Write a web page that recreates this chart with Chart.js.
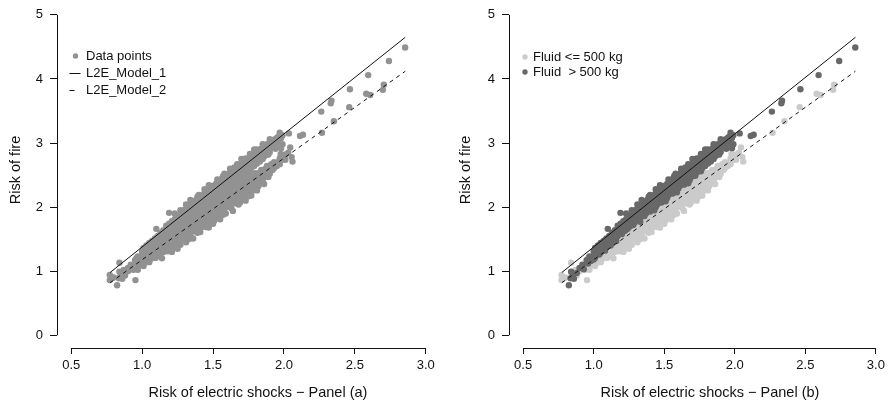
<!DOCTYPE html>
<html><head><meta charset="utf-8">
<script src="https://cdn.jsdelivr.net/npm/chart.js@4.4.0/dist/chart.umd.min.js"></script>
<style>
html,body{margin:0;padding:0;background:#fff;width:894px;height:406px;overflow:hidden}
.panel{position:absolute;top:0;height:406px}
#pa{left:0;width:447px}
#pb{left:452px;width:442px}
canvas{display:block}
</style></head><body>
<div class="panel" id="pa"><canvas id="ca" width="447" height="406"></canvas></div>
<div class="panel" id="pb"><canvas id="cb" width="442" height="406"></canvas></div>
<script>
// ---- tick values and labels ----
const xTicks = [0.5, 1.0, 1.5, 2.0, 2.5, 3.0];
const xTickLabels = ['0.5', '1.0', '1.5', '2.0', '2.5', '3.0'];
const yTicks = [0, 1, 2, 3, 4, 5];
const yTickLabels = ['0', '1', '2', '3', '4', '5'];

// ---- fitted models (end points of the lines) ----
const modelX = [0.775, 2.855];
const model1Y = [0.98, 4.65];
const model2Y = [0.82, 4.12];

// ---- observations, Fluid > 500 kg ----
const heavyPoints = [
[0.824,0.78],[0.836,0.89],[0.84,0.99],[0.85,0.92],[0.86,0.88],[0.88,0.97],[0.90,1.05],[0.92,1.10],[0.93,1.03],
[0.95,1.17],[0.96,1.12],[0.97,1.23],[0.98,1.16],
[1.00,1.31],[1.00,1.24],[1.00,1.18],[1.02,1.36],[1.02,1.28],[1.04,1.39],[1.04,1.31],[1.04,1.26],
[1.06,1.42],[1.06,1.35],[1.08,1.47],[1.08,1.38],[1.08,1.32],[1.10,1.66],[1.10,1.50],[1.10,1.41],
[1.12,1.54],[1.12,1.46],[1.12,1.40],[1.14,1.59],[1.14,1.50],[1.16,1.62],[1.16,1.54],[1.16,1.47],
[1.18,1.67],[1.18,1.58],[1.19,1.91],[1.20,1.74],[1.20,1.66],[1.20,1.58],[1.22,1.78],[1.22,1.70],[1.22,1.63],
[1.24,1.84],[1.24,1.75],[1.24,1.66],[1.26,1.86],[1.26,1.79],[1.26,1.71],[1.28,1.93],[1.28,1.85],[1.28,1.76],[1.28,1.72],
[1.30,1.96],[1.30,1.88],[1.30,1.80],[1.32,2.00],[1.32,1.93],[1.32,1.85],[1.32,1.79],[1.34,2.04],[1.34,1.96],[1.34,1.88],
[1.36,2.08],[1.36,2.00],[1.36,1.92],[1.36,1.86],[1.38,2.11],[1.38,2.04],[1.38,1.96],
[1.40,2.19],[1.40,2.14],[1.40,2.07],[1.40,1.99],[1.40,1.93],[1.42,2.18],[1.42,2.11],[1.42,2.03],
[1.44,2.22],[1.44,2.14],[1.44,2.06],[1.44,2.00],[1.46,2.26],[1.46,2.18],[1.46,2.10],
[1.48,2.30],[1.48,2.21],[1.48,2.13],[1.48,2.07],[1.50,2.33],[1.50,2.25],[1.50,2.17],
[1.52,2.36],[1.52,2.28],[1.52,2.20],[1.52,2.14],[1.54,2.40],[1.54,2.32],[1.54,2.24],
[1.56,2.44],[1.56,2.35],[1.56,2.27],[1.56,2.21],[1.58,2.47],[1.58,2.39],[1.58,2.31],
[1.60,2.51],[1.60,2.43],[1.60,2.35],[1.60,2.29],[1.62,2.54],[1.62,2.46],[1.62,2.38],
[1.64,2.58],[1.64,2.49],[1.64,2.41],[1.64,2.35],[1.66,2.61],[1.66,2.53],[1.66,2.45],
[1.68,2.65],[1.68,2.57],[1.68,2.49],[1.68,2.42],[1.70,2.68],[1.70,2.60],[1.70,2.52],
[1.72,2.71],[1.72,2.64],[1.72,2.56],[1.72,2.49],[1.74,2.75],[1.74,2.67],[1.74,2.59],
[1.76,2.78],[1.76,2.70],[1.76,2.62],[1.76,2.56],[1.78,2.82],[1.78,2.74],[1.78,2.66],
[1.80,2.85],[1.80,2.77],[1.80,2.69],[1.82,2.88],[1.82,2.81],[1.82,2.72],[1.84,2.91],[1.84,2.84],[1.84,2.76],
[1.86,2.95],[1.86,2.87],[1.86,2.79],[1.88,2.98],[1.88,2.90],[1.88,2.82],[1.90,3.01],[1.90,2.94],[1.90,2.86],
[1.92,3.04],[1.92,2.96],[1.94,3.06],[1.94,2.99],[1.94,2.91],[1.96,3.10],[1.96,3.03],[1.97,3.16],[1.98,3.08],[1.98,2.92],
[1.01,1.36],[1.01,1.28],[1.01,1.21],[1.03,1.40],[1.03,1.32],[1.05,1.44],[1.05,1.35],[1.05,1.29],[1.07,1.47],[1.07,1.39],
[1.09,1.51],[1.09,1.43],[1.09,1.37],[1.11,1.55],[1.11,1.47],[1.13,1.60],[1.13,1.51],[1.13,1.44],[1.15,1.64],[1.15,1.56],
[1.17,1.71],[1.17,1.62],[1.17,1.55],[1.19,1.74],[1.19,1.65],[1.21,1.78],[1.21,1.69],[1.21,1.62],[1.23,1.81],[1.23,1.72],[1.23,1.65],
[1.25,1.85],[1.25,1.76],[1.25,1.69],[1.27,1.95],[1.27,1.88],[1.27,1.79],[1.27,1.72],[1.29,1.92],[1.29,1.83],[1.29,1.76],
[1.31,1.96],[1.31,1.87],[1.31,1.80],[1.33,1.99],[1.33,1.90],[1.33,1.83],[1.33,1.77],[1.35,2.03],[1.35,1.94],[1.35,1.87],
[1.37,2.06],[1.37,1.97],[1.37,1.90],[1.39,2.16],[1.39,2.10],[1.39,2.01],[1.39,1.94],[1.41,2.13],[1.41,2.04],[1.41,1.97],
[1.43,2.17],[1.43,2.08],[1.43,2.01],[1.43,1.95],[1.45,2.20],[1.45,2.11],[1.45,2.04],[1.47,2.24],[1.47,2.15],[1.47,2.08],
[1.49,2.33],[1.49,2.27],[1.49,2.18],[1.49,2.11],[1.51,2.31],[1.51,2.22],[1.51,2.15],[1.51,2.09],[1.53,2.35],[1.53,2.26],[1.53,2.19],
[1.55,2.38],[1.55,2.29],[1.55,2.22],[1.57,2.48],[1.57,2.42],[1.57,2.33],[1.57,2.26],[1.59,2.45],[1.59,2.36],[1.59,2.29],[1.59,2.23],
[1.61,2.49],[1.61,2.40],[1.61,2.33],[1.63,2.52],[1.63,2.43],[1.63,2.36],[1.65,2.62],[1.65,2.56],[1.65,2.47],[1.65,2.40],
[1.67,2.59],[1.67,2.50],[1.67,2.43],[1.67,2.37],[1.69,2.63],[1.69,2.54],[1.69,2.47],[1.71,2.66],[1.71,2.57],[1.71,2.50],
[1.73,2.76],[1.73,2.70],[1.73,2.61],[1.73,2.54],[1.75,2.73],[1.75,2.64],[1.75,2.57],[1.77,2.77],[1.77,2.68],[1.77,2.61],
[1.79,2.80],[1.79,2.71],[1.79,2.64],[1.81,2.90],[1.81,2.84],[1.81,2.75],[1.81,2.68],[1.83,2.87],[1.83,2.78],[1.83,2.71],
[1.85,2.91],[1.85,2.82],[1.85,2.75],[1.87,2.95],[1.87,2.86],[1.89,2.98],[1.89,2.89],[1.89,2.82],[1.91,3.01],[1.91,2.93],
[1.93,3.05],[1.93,2.96],[1.95,3.08],[1.95,2.99],[1.99,3.12],[1.99,2.98],
[1.23,1.90],[1.31,2.04],[1.34,2.11],[1.44,2.28],[1.47,2.34],[1.53,2.43],[1.58,2.52],[1.62,2.60],[1.67,2.67],[1.70,2.75],
[1.76,2.83],[1.79,2.90],[1.85,2.98],[1.90,3.06],
[2.035,3.15],[2.113,3.11],[2.134,3.13],[2.263,3.49],[2.33,3.62],[2.335,3.66],[2.465,3.84],[2.594,4.06],[2.74,4.28],[2.854,4.49]
];

// ---- observations, Fluid <= 500 kg ----
const lightPoints = [
[0.772,0.94],[0.772,0.86],[0.80,0.90],[0.84,1.13],[0.85,0.97],[0.87,1.02],[0.88,0.93],[0.90,1.00],[0.92,1.06],[0.94,1.02],[0.953,0.86],
[0.96,1.20],[0.96,1.12],[0.96,1.05],[0.98,1.16],[0.98,1.09],[1.00,1.26],[1.00,1.18],[1.00,1.10],[1.02,1.22],[1.02,1.13],
[1.04,1.33],[1.04,1.25],[1.04,1.17],[1.06,1.29],[1.06,1.19],[1.08,1.39],[1.08,1.31],[1.08,1.24],[1.096,1.21],[1.10,1.35],[1.10,1.27],
[1.12,1.45],[1.12,1.37],[1.12,1.29],[1.14,1.41],[1.14,1.33],[1.16,1.52],[1.16,1.44],[1.16,1.35],[1.18,1.48],[1.18,1.39],[1.18,1.31],
[1.20,1.58],[1.20,1.50],[1.20,1.42],[1.22,1.54],[1.22,1.45],[1.22,1.38],[1.24,1.64],[1.24,1.57],[1.24,1.49],[1.244,1.39],
[1.26,1.60],[1.26,1.52],[1.26,1.45],[1.28,1.71],[1.28,1.63],[1.28,1.55],[1.30,1.66],[1.30,1.58],[1.30,1.50],
[1.32,1.77],[1.32,1.69],[1.32,1.61],[1.34,1.73],[1.34,1.64],[1.34,1.56],[1.36,1.84],[1.36,1.75],[1.36,1.67],
[1.38,1.79],[1.38,1.71],[1.38,1.62],[1.40,1.90],[1.40,1.82],[1.40,1.74],[1.42,1.85],[1.42,1.77],[1.42,1.69],
[1.44,1.97],[1.44,1.88],[1.44,1.80],[1.46,1.92],[1.46,1.84],[1.46,1.75],[1.48,2.03],[1.48,1.94],[1.48,1.86],
[1.50,1.98],[1.50,1.90],[1.50,1.81],[1.52,2.09],[1.52,2.01],[1.52,1.92],[1.54,2.04],[1.54,1.95],[1.54,1.87],
[1.56,2.16],[1.56,2.07],[1.56,1.99],[1.58,2.11],[1.58,2.02],[1.58,1.93],[1.60,2.22],[1.60,2.13],[1.60,2.05],
[1.62,2.17],[1.62,2.09],[1.62,2.00],[1.64,2.28],[1.64,2.20],[1.64,2.12],[1.66,2.23],[1.66,2.15],[1.66,2.06],
[1.68,2.35],[1.68,2.26],[1.68,2.18],[1.70,2.30],[1.70,2.21],[1.70,2.13],[1.72,2.41],[1.72,2.33],[1.72,2.25],
[1.74,2.36],[1.74,2.27],[1.74,2.19],[1.76,2.47],[1.76,2.39],[1.76,2.31],[1.78,2.42],[1.78,2.34],[1.78,2.26],
[1.80,2.53],[1.80,2.45],[1.80,2.37],[1.82,2.49],[1.82,2.40],[1.82,2.33],[1.84,2.58],[1.84,2.51],[1.84,2.43],
[1.86,2.55],[1.86,2.46],[1.88,2.64],[1.88,2.57],[1.88,2.49],[1.90,2.61],[1.90,2.52],[1.913,2.62],[1.92,2.66],[1.92,2.58],
[1.95,2.64],[1.96,2.70],[1.977,2.83],[2.00,2.74],[2.044,2.93],[2.054,2.78],[2.06,2.71],
[0.97,1.18],[0.97,1.10],[0.97,1.02],[0.99,1.21],[0.99,1.13],[1.01,1.24],[1.01,1.16],[1.01,1.08],[1.03,1.27],[1.03,1.19],
[1.05,1.31],[1.05,1.22],[1.05,1.14],[1.07,1.34],[1.07,1.25],[1.09,1.37],[1.09,1.29],[1.09,1.21],[1.11,1.40],[1.11,1.32],[1.11,1.24],
[1.13,1.43],[1.13,1.35],[1.13,1.27],[1.15,1.47],[1.15,1.38],[1.15,1.30],[1.17,1.50],[1.17,1.41],[1.17,1.33],[1.19,1.53],[1.19,1.44],[1.19,1.36],
[1.21,1.56],[1.21,1.48],[1.21,1.40],[1.21,1.32],[1.23,1.59],[1.23,1.51],[1.23,1.43],[1.25,1.62],[1.25,1.54],[1.25,1.46],
[1.27,1.65],[1.27,1.57],[1.27,1.49],[1.27,1.41],[1.29,1.69],[1.29,1.60],[1.29,1.52],[1.31,1.72],[1.31,1.63],[1.31,1.55],
[1.33,1.75],[1.33,1.66],[1.33,1.58],[1.33,1.50],[1.35,1.78],[1.35,1.70],[1.35,1.62],[1.37,1.81],[1.37,1.73],[1.37,1.65],
[1.39,1.84],[1.39,1.76],[1.39,1.68],[1.39,1.60],[1.41,1.88],[1.41,1.79],[1.41,1.71],[1.43,1.91],[1.43,1.82],[1.43,1.74],
[1.45,1.94],[1.45,1.85],[1.45,1.77],[1.45,1.69],[1.47,1.97],[1.47,1.89],[1.47,1.81],[1.49,2.00],[1.49,1.92],[1.49,1.84],
[1.51,2.03],[1.51,1.95],[1.51,1.87],[1.51,1.79],[1.53,2.07],[1.53,1.98],[1.53,1.90],[1.55,2.10],[1.55,2.01],[1.55,1.93],
[1.57,2.13],[1.57,2.04],[1.57,1.96],[1.57,1.88],[1.59,2.16],[1.59,2.08],[1.59,2.00],[1.61,2.19],[1.61,2.11],[1.61,2.03],
[1.63,2.22],[1.63,2.14],[1.63,2.06],[1.63,1.98],[1.65,2.26],[1.65,2.17],[1.65,2.09],[1.67,2.29],[1.67,2.20],[1.67,2.12],
[1.69,2.32],[1.69,2.23],[1.69,2.15],[1.69,2.07],[1.71,2.35],[1.71,2.27],[1.71,2.19],[1.73,2.38],[1.73,2.30],[1.73,2.22],
[1.75,2.41],[1.75,2.33],[1.75,2.25],[1.75,2.17],[1.77,2.45],[1.77,2.36],[1.77,2.28],[1.79,2.48],[1.79,2.39],[1.79,2.31],
[1.81,2.51],[1.81,2.42],[1.81,2.34],[1.83,2.54],[1.83,2.45],[1.83,2.37],[1.85,2.57],[1.85,2.49],[1.85,2.41],
[1.87,2.60],[1.87,2.52],[1.89,2.63],[1.89,2.55],[1.89,2.47],[1.91,2.67],[1.91,2.58],[1.93,2.70],[1.93,2.61],
[1.97,2.76],[1.97,2.67],[2.01,2.82],[2.01,2.74],[2.03,2.85],
[1.14,1.20],[1.21,1.30],[1.25,1.35],[1.31,1.45],[1.36,1.51],[1.41,1.61],[1.47,1.68],[1.50,1.74],[1.55,1.81],[1.59,1.90],
[1.64,1.94],[1.68,2.04],[1.73,2.10],[1.77,2.18],[1.81,2.26],[1.86,2.36],
[2.268,3.16],[2.352,3.34],[2.46,3.56],[2.58,3.77],[2.608,3.75],[2.697,3.83],[2.704,3.91]
];

// ---- texts ----
const yTitle = 'Risk of fire';
const xTitleA = 'Risk of electric shocks \u2212 Panel (a)';
const xTitleB = 'Risk of electric shocks \u2212 Panel (b)';
const legendA = ['Data points', 'L2E_Model_1', 'L2E_Model_2'];
const legendB = ['Fluid <= 500 kg', 'Fluid  > 500 kg'];

const FONT = "'Liberation Sans', Arial, Helvetica, sans-serif";
const INK = '#111';
const COL_ALL = '#929292';
const COL_HEAVY = '#686868';
const COL_LIGHT = '#cbcbcb';
const R = 3.2;

const toXY = pts => pts.map(p => ({x: p[0], y: p[1]}));
const lineData = ys => modelX.map((x, i) => ({x: x, y: ys[i]}));

// R-style detached axis lines, drawn through the scales
const rAxes = {
  id: 'rAxes',
  afterDraw(chart) {
    const {ctx, chartArea, scales: {x, y}} = chart;
    ctx.save();
    ctx.strokeStyle = INK; ctx.lineWidth = 1;
    ctx.beginPath();
    const ax = Math.round(chartArea.left) + 0.5;
    ctx.moveTo(ax, y.getPixelForValue(yTicks[0]));
    ctx.lineTo(ax, y.getPixelForValue(yTicks[yTicks.length - 1]));
    const ay = Math.round(chartArea.bottom) + 0.5;
    ctx.moveTo(x.getPixelForValue(xTicks[0]), ay);
    ctx.lineTo(x.getPixelForValue(xTicks[xTicks.length - 1]), ay);
    ctx.stroke();
    ctx.restore();
  }
};

const rText = {
  id: 'rText',
  afterDraw(chart, args, o) {
    const ctx = chart.ctx;
    ctx.save();
    ctx.fillStyle = INK;
    ctx.font = '14.5px ' + FONT;
    ctx.textAlign = 'center'; ctx.textBaseline = 'middle';
    ctx.fillText(o.xTitle, o.xTitleX, o.xTitleY);
    ctx.save();
    ctx.translate(o.yTitleX, o.yTitleY);
    ctx.rotate(-Math.PI / 2);
    ctx.fillText(yTitle, 0, 0);
    ctx.restore();
    // legend
    ctx.font = '13px ' + FONT;
    ctx.textAlign = 'left';
    o.items.forEach((it, i) => {
      const yy = o.legY + i * o.legStep;
      if (it.kind === 'dot') {
        ctx.fillStyle = it.color;
        ctx.beginPath(); ctx.arc(o.symX, yy, 2.7, 0, Math.PI * 2); ctx.fill();
      } else {
        ctx.strokeStyle = INK; ctx.lineWidth = 1;
        ctx.setLineDash(it.kind === 'dash' ? [5, 6] : []);
        ctx.beginPath(); ctx.moveTo(o.symX - 6, yy + 0.5); ctx.lineTo(o.symX + 5, yy + 0.5); ctx.stroke();
        ctx.setLineDash([]);
      }
      ctx.fillStyle = INK;
      ctx.fillText(it.text, o.textX, yy);
    });
    ctx.restore();
  }
};

function scalesCfg() {
  return {
    x: {
      type: 'linear', min: 0.4, max: 3.1, bounds: 'data',
      afterBuildTicks: s => { s.ticks = xTicks.map(v => ({value: v})); },
      afterFit: s => { s.height = 58; s.paddingLeft = 0; s.paddingRight = 0; },
      ticks: { callback: v => xTickLabels[xTicks.indexOf(v)], font: {family: FONT, size: 13}, color: INK,
               padding: 4, maxRotation: 0, autoSkip: false },
      grid: { display: true, drawOnChartArea: false, drawTicks: true, tickLength: 6, color: INK, lineWidth: 1 },
      border: { display: false }
    },
    y: {
      type: 'linear', min: -0.2, max: 5.17, bounds: 'data',
      afterBuildTicks: s => { s.ticks = yTicks.map(v => ({value: v})); },
      afterFit: s => { s.width = 57; s.paddingTop = 0; s.paddingBottom = 0; },
      ticks: { callback: v => yTickLabels[yTicks.indexOf(v)], font: {family: FONT, size: 13}, color: INK,
               padding: 7, autoSkip: false },
      grid: { display: true, drawOnChartArea: false, drawTicks: true, tickLength: 7, color: INK, lineWidth: 1 },
      border: { display: false }
    }
  };
}

function lineSets() {
  return [
    { label: legendA[1], data: lineData(model1Y), showLine: true, borderColor: INK, borderWidth: 1,
      pointRadius: 0, order: 0 },
    { label: legendA[2], data: lineData(model2Y), showLine: true, borderColor: INK, borderWidth: 1,
      borderDash: [4, 4], pointRadius: 0, order: 0 }
  ];
}

function makeChart(id, datasets, rightPad, textOpts) {
  return new Chart(document.getElementById(id), {
    type: 'scatter',
    data: { datasets: datasets },
    options: {
      responsive: false, animation: false, events: [],
      devicePixelRatio: 1,
      layout: { padding: { left: 0, top: 0, right: rightPad, bottom: 0 } },
      scales: scalesCfg(),
      plugins: { legend: { display: false }, tooltip: { enabled: false }, rText: textOpts }
    },
    plugins: [rAxes, rText]
  });
}

makeChart('ca', lineSets().concat([
  { label: legendA[0], data: toXY(heavyPoints.concat(lightPoints)),
    backgroundColor: COL_ALL, borderWidth: 0, pointRadius: R, order: 2 }
]), 7, {
  xTitle: xTitleA, xTitleX: 258, xTitleY: 393, yTitleX: 16, yTitleY: 170,
  symX: 75.5, textX: 86, legY: 56, legStep: 17,
  items: [ {kind: 'dot', color: COL_ALL, text: legendA[0]}, {kind: 'line', text: legendA[1]}, {kind: 'dash', text: legendA[2]} ]
});

makeChart('cb', lineSets().concat([
  { label: legendB[1], data: toXY(heavyPoints), backgroundColor: COL_HEAVY, borderWidth: 0, pointRadius: R, order: 1 },
  { label: legendB[0], data: toXY(lightPoints), backgroundColor: COL_LIGHT, borderWidth: 0, pointRadius: R, order: 2 }
]), 2, {
  xTitle: xTitleB, xTitleX: 258, xTitleY: 393, yTitleX: 13.5, yTitleY: 170,
  symX: 73, textX: 81, legY: 57, legStep: 15,
  items: [ {kind: 'dot', color: COL_LIGHT, text: legendB[0]}, {kind: 'dot', color: COL_HEAVY, text: legendB[1]} ]
});
</script>
</body></html>
